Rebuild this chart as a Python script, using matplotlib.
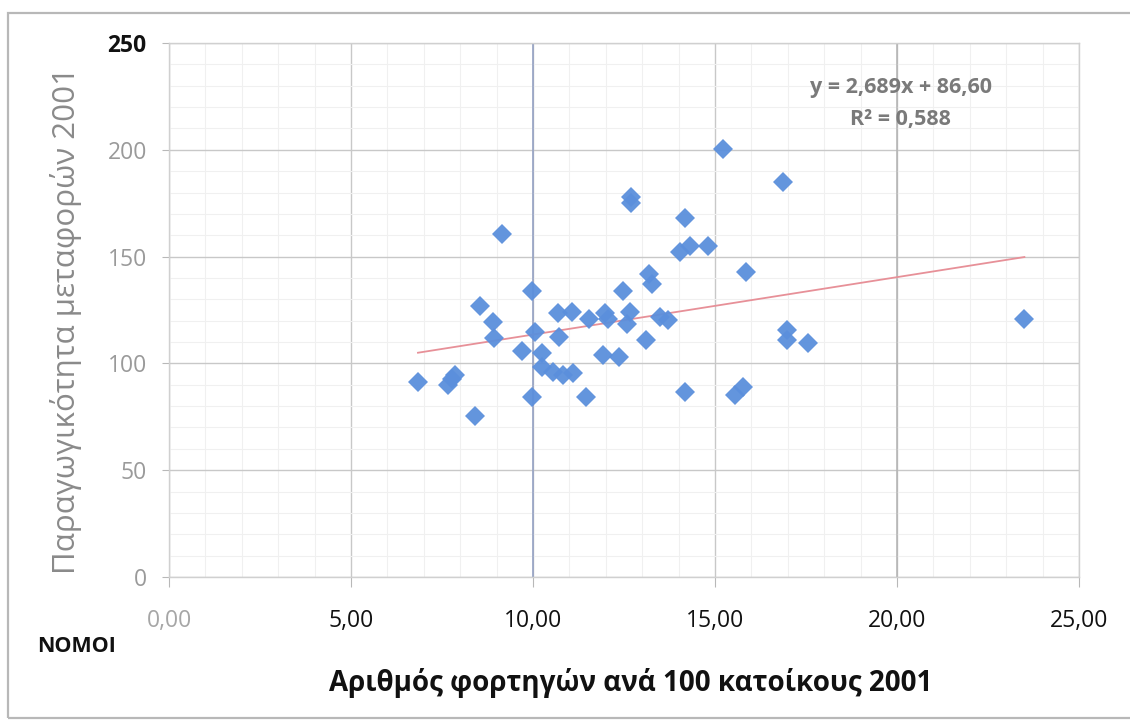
import matplotlib
matplotlib.use("Agg")
import matplotlib.pyplot as plt
import numpy as np
from matplotlib.patches import Rectangle

plt.rcParams['font.family'] = ['Open Sans', 'DejaVu Sans']

# Data: trucks per 100 inhabitants (x) vs transport productivity (y), 2001
trucks = [6.84, 7.66, 7.78, 7.86, 8.40, 8.54, 8.90, 8.93, 9.15, 9.70,
          9.97, 10.05, 9.97, 10.25, 10.25, 10.55, 10.82, 11.10, 10.69, 11.07,
          10.71, 11.45, 11.55, 11.98, 12.05, 11.92, 12.36, 12.47, 12.58, 12.66,
          12.70, 12.70, 13.10, 13.20, 13.27, 13.49, 13.70, 14.04, 14.30, 14.80,
          14.18, 14.18, 15.22, 15.55, 15.77, 15.85, 16.87, 16.98, 16.98, 17.55,
          23.50]
productivity = [91.5, 90.0, 92.5, 94.5, 75.5, 127.0, 119.5, 112.0, 160.5, 106.0,
                134.0, 114.5, 84.5, 105.0, 98.5, 96.0, 94.5, 95.5, 123.5, 124.0,
                112.5, 84.5, 121.0, 123.5, 121.0, 104.0, 103.0, 134.0, 118.5, 124.0,
                178.0, 175.0, 111.0, 142.0, 137.0, 121.5, 120.5, 152.0, 155.0, 155.0,
                168.0, 86.5, 200.5, 85.0, 89.0, 143.0, 185.0, 115.5, 111.0, 109.5,
                121.0]

slope = 2.689
intercept = 86.60
eq_text = "y = 2,689x + 86,60"
r2_text = "R² = 0,588"

x_ticks = [0, 5, 10, 15, 20, 25]
x_tick_labels = ["0,00", "5,00", "10,00", "15,00", "20,00", "25,00"]
y_ticks = [0, 50, 100, 150, 200, 250]
y_tick_labels = ["0", "50", "100", "150", "200", "250"]

x_title = "Αριθμός φορτηγών ανά 100 κατοίκους 2001"
y_title = "Παραγωγικότητα μεταφορών 2001"
corner_label = "ΝΟΜΟΙ"

W, H = 1130, 721
fig = plt.figure(figsize=(W / 100, H / 100), dpi=100)
fig.patch.set_facecolor('white')

# outer frame (right edge lies outside the picture, as in the scan)
fig.add_artist(Rectangle((8 / W, 3 / H), (W + 20) / W, (H - 16) / H,
                         transform=fig.transFigure, fill=False,
                         edgecolor='#b8b8b8', linewidth=1.6, clip_on=False))

ax = fig.add_axes([169 / W, (H - 577) / H, (1079 - 169) / W, (577 - 43) / H])
ax.set_xlim(0, 25)
ax.set_ylim(0, 250)

# grids
ax.set_xticks(np.arange(0, 26, 1), minor=True)
ax.set_yticks(np.arange(0, 251, 10), minor=True)
ax.grid(which='minor', color='#f0f0f0', linewidth=0.8)
ax.grid(which='major', color='#c8c8c8', linewidth=1.0)
ax.axvline(10, color='#95a2c4', linewidth=1.2, zorder=1)
ax.axvline(20, color='#b4b4b4', linewidth=1.1, zorder=1)
ax.set_axisbelow(True)

for s in ax.spines.values():
    s.set_color('#d0d0d0')
    s.set_linewidth(1.0)

ax.set_xticks(x_ticks)
ax.set_xticklabels(x_tick_labels)
ax.set_yticks(y_ticks)
ax.set_yticklabels(y_tick_labels)
ax.tick_params(axis='both', which='minor', length=0)
ax.tick_params(axis='x', which='major', length=7, color='#b8b8b8', pad=16, labelsize=16.5)
ax.tick_params(axis='y', which='major', length=5, color='#b8b8b8', pad=11, labelsize=16.5)
for i, lab in enumerate(ax.get_xticklabels()):
    lab.set_color('#a6a6a6' if i == 0 else '#111111')
for i, lab in enumerate(ax.get_yticklabels()):
    if i == len(y_ticks) - 1:
        lab.set_color('#111111')
        lab.set_fontweight('bold')
    else:
        lab.set_color('#9a9a9a')

# scatter
ax.plot(trucks, productivity, linestyle='none', marker='D', markersize=10.5,
        color='#5b8fdc', markeredgewidth=0, zorder=3, alpha=0.95)

# trend line
xs = np.array([min(trucks), max(trucks)])
ax.plot(xs, slope * xs + intercept, color='#e79098', linewidth=1.3, zorder=2)

fig.text(901 / W, 1 - 87 / H, eq_text, ha='center', va='center',
         fontsize=15.5, color='#7a7a7a', fontweight='bold')
fig.text(900 / W, 1 - 119 / H, r2_text, ha='center', va='center',
         fontsize=15.5, color='#7a7a7a', fontweight='bold')

fig.text(631 / W, 1 - 683 / H, x_title, ha='center', va='center',
         fontsize=20, fontweight='bold', color='#111111')
fig.text(37 / W, 1 - 647 / H, corner_label, ha='left', va='center',
         fontsize=15.5, fontweight='bold', color='#111111')
fig.text(66 / W, 1 - 320 / H, y_title, ha='center', va='center',
         rotation=90, fontsize=22.5, color='#8a8a8a')

fig.savefig('out.png', dpi=100, facecolor='white')
